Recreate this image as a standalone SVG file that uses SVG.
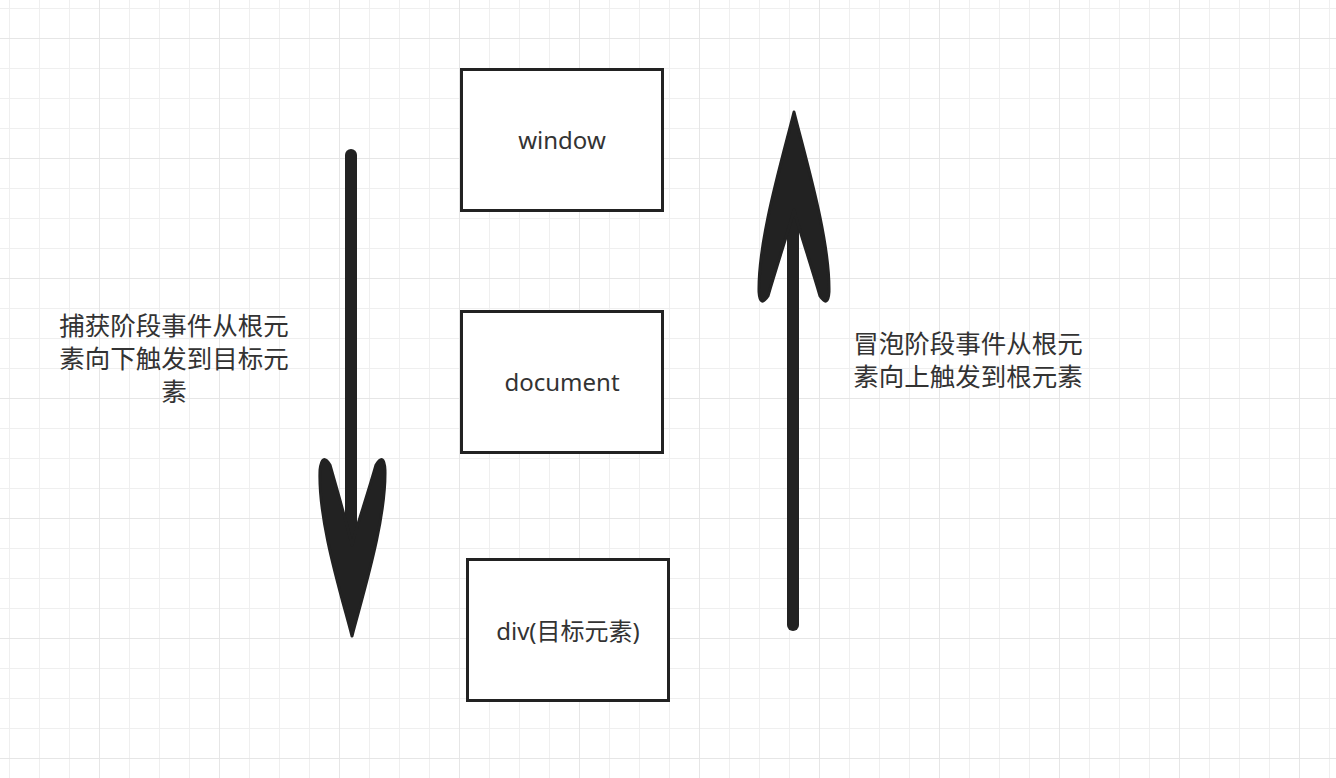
<svg xmlns="http://www.w3.org/2000/svg" width="1336" height="778" viewBox="0 0 1336 778">
<defs>
<pattern id="minor" x="9" y="8" width="30" height="30" patternUnits="userSpaceOnUse"><path d="M0,0V30M0,0H30" stroke="#efefef" stroke-width="2" fill="none"/></pattern>
<pattern id="major" x="99" y="38" width="120" height="120" patternUnits="userSpaceOnUse"><path d="M0,0V120M0,0H120" stroke="#e6e6e6" stroke-width="2" fill="none"/></pattern>
</defs>
<style>
.box{fill:#fff;stroke:#222;stroke-width:3}
.t{font-family:"Noto Sans","Noto Sans CJK SC",sans-serif;font-size:24px;fill:#333;text-anchor:middle}
.c{font-size:25.5px}
.ink{fill:#222;stroke:#222;stroke-width:3;stroke-linejoin:round}
</style>
<rect width="1336" height="778" fill="#fff"/>
<rect width="1336" height="778" fill="url(#minor)"/>
<rect width="1336" height="778" fill="url(#major)"/>
<g id="window"><rect class="box" x="461.5" y="69.5" width="201" height="141"/><text class="t" x="562" y="149">window</text></g>
<g id="document"><rect class="box" x="461.5" y="311.5" width="201" height="141"/><text class="t" x="562" y="391">document</text></g>
<g id="div"><rect class="box" x="467.5" y="559.5" width="201" height="141"/><text class="t" x="568" y="640">div(目标元素)</text></g>
<g id="capture-label"><text class="t c" x="174" y="335">捕获阶段事件从根元</text><text class="t c" x="174" y="368">素向下触发到目标元</text><text class="t c" x="174" y="401">素</text></g>
<g id="bubble-label"><text class="t c" x="968" y="353">冒泡阶段事件从根元</text><text class="t c" x="968" y="386">素向上触发到根元素</text></g>
<g id="connectors">
<path d="M351,155 L351,600" stroke="#222" stroke-width="12" stroke-linecap="round" fill="none"/>
<path class="ink" d="M352,636 C340,590 318,520 320,470 Q322,452 330,465 C340,500 347,525 352,545 C357,525 366,500 376,465 Q384,452 385,470 C386,520 364,590 352,636Z"/>
<path d="M793,625 L793,150" stroke="#222" stroke-width="12" stroke-linecap="round" fill="none"/>
<path class="ink" d="M794,112 C806,160 830,240 829,292 Q828,308 820,296 C810,262 800,232 794,210 C788,232 778,262 768,296 Q760,308 759,292 C758,240 782,160 794,112Z"/>
</g>
</svg>
